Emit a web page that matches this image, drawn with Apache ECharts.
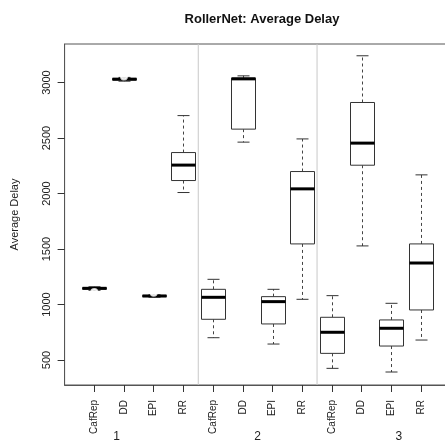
<!DOCTYPE html>
<html>
<head>
<meta charset="utf-8">
<style>
  html, body { margin: 0; padding: 0; background: #fff; }
  #main { width: 445px; height: 444px; }
</style>
<script src="https://cdn.jsdelivr.net/npm/echarts@6/dist/echarts.min.js"></script>
</head>
<body>
<div id="main"></div>
<script>
// categories (empty slots at both ends keep the R-style padding)
var categories = ['', 'CafRep', 'DD', 'EPI', 'RR', 'CafRep', 'DD', 'EPI', 'RR', 'CafRep', 'DD', 'EPI', 'RR', ''];
var groupLabels = ['1', '2', '3'];
var groupLabelPos = [1.75, 6.5, 11.25];
var groupBreaks = [4.5, 8.5];
var yTicks = [500, 1000, 1500, 2000, 2500, 3000];

// [categoryIndex, low, q1, median, q3, high]
var boxes = [
  [1, 1128, 1138, 1146, 1152, 1160],
  [2, 3012, 3022, 3030, 3037, 3046],
  [3, 1066, 1071, 1077, 1082, 1088],
  [4, 2009, 2117, 2256, 2369, 2702],
  [5, 701, 867, 1065, 1137, 1227],
  [6, 2463, 2580, 3033, 3040, 3060],
  [7, 644, 825, 1026, 1071, 1137],
  [8, 1047, 1546, 2042, 2198, 2492],
  [9, 425, 560, 750, 885, 1080],
  [10, 1528, 2255, 2454, 2820, 3241],
  [11, 392, 626, 786, 861, 1011],
  [12, 680, 951, 1374, 1546, 2168]
];
// outliers [categoryIndex, value]
var outliers = [
  [1, 1112],
  [2, 3055], [2, 3082],
  [3, 1105]
];

var font = 'Liberation Sans, Arial, sans-serif';
var ink = '#333';
var chart = echarts.init(document.getElementById('main'));

function renderBox(params, api) {
  var idx = api.value(0);
  var yLow = api.coord([idx, api.value(1)])[1];
  var yQ1 = api.coord([idx, api.value(2)])[1];
  var yMed = api.coord([idx, api.value(3)])[1];
  var yQ3 = api.coord([idx, api.value(4)])[1];
  var yHigh = api.coord([idx, api.value(5)])[1];
  var x = Math.round(api.coord([idx, api.value(3)])[0]) + 0.5;
  var hw = Math.round(api.size([1, 0])[0] * 0.41);
  var cw = Math.round(hw / 2);
  var solid = { stroke: ink, lineWidth: 1, fill: null };
  var dash = { stroke: '#444', lineWidth: 1, lineDash: [3, 3], fill: null };
  return {
    type: 'group',
    children: [
      { type: 'line', shape: { x1: x, y1: yQ3, x2: x, y2: yHigh }, style: dash },
      { type: 'line', shape: { x1: x, y1: yQ1, x2: x, y2: yLow }, style: dash },
      { type: 'line', shape: { x1: x - cw, y1: yHigh, x2: x + cw, y2: yHigh }, style: solid },
      { type: 'line', shape: { x1: x - cw, y1: yLow, x2: x + cw, y2: yLow }, style: solid },
      { type: 'rect', shape: { x: x - hw, y: yQ3, width: hw * 2, height: yQ1 - yQ3 },
        style: { stroke: ink, lineWidth: 1, fill: '#fff' } },
      { type: 'line', shape: { x1: x - hw, y1: yMed, x2: x + hw, y2: yMed },
        style: { stroke: '#000', lineWidth: 3 } }
    ]
  };
}

function renderBreak(params, api) {
  var x = api.value(0);
  var top = api.coord([x, 3347]);
  var bot = api.coord([x, 275]);
  return {
    type: 'line',
    shape: { x1: top[0], y1: top[1], x2: bot[0], y2: bot[1] },
    style: { stroke: '#c8c8c8', lineWidth: 1 }
  };
}

var option = {
  backgroundColor: '#fff',
  animation: false,
  title: {
    text: 'RollerNet: Average Delay',
    left: 257,
    textAlign: 'center',
    top: 8,
    textStyle: { fontFamily: font, fontSize: 13, fontWeight: 'bold', color: '#111' }
  },
  grid: {
    left: 64.6,
    width: 386.1,
    top: 44,
    height: 341,
    outerBoundsMode: 'none',
    containLabel: false,
    show: true,
    borderColor: '#555',
    borderWidth: 1,
    backgroundColor: 'transparent'
  },
  xAxis: [{
    type: 'category',
    data: categories,
    boundaryGap: false,
    axisLine: { show: true, lineStyle: { color: '#555' } },
    axisTick: {
      show: true, length: 7, lineStyle: { color: '#333' },
      interval: function (i, v) { return v !== ''; }
    },
    axisLabel: {
      rotate: 90, fontSize: 10, margin: 15, color: '#222', fontFamily: font,
      interval: function (i, v) { return v !== ''; }
    },
    splitLine: { show: false }
  }, {
    type: 'value',
    min: 0,
    max: 13,
    position: 'bottom',
    offset: 38,
    axisLine: { show: false },
    axisTick: { show: false },
    splitLine: { show: false },
    axisLabel: {
      customValues: groupLabelPos,
      margin: 8, fontSize: 12, color: '#222', fontFamily: font,
      formatter: function (v) {
        var k = groupLabelPos.indexOf(v);
        return k >= 0 ? groupLabels[k] : '';
      }
    }
  }],
  yAxis: {
    type: 'value',
    min: 275,
    max: 3347,
    name: 'Average Delay',
    nameLocation: 'middle',
    nameRotate: 90,
    nameGap: 44,
    nameTextStyle: { fontFamily: font, fontSize: 11, color: '#222' },
    axisLine: { show: true, lineStyle: { color: '#555' } },
    axisTick: { show: true, length: 7, customValues: yTicks, lineStyle: { color: '#333' } },
    axisLabel: {
      customValues: yTicks, rotate: 90, margin: 12, fontSize: 11,
      color: '#222', fontFamily: font,
      formatter: function (v) { return String(v); }
    },
    splitLine: { show: false }
  },
  series: [{
    type: 'custom',
    xAxisIndex: 1,
    renderItem: renderBreak,
    data: groupBreaks.map(function (b) { return [b]; }),
    encode: { x: 0 },
    silent: true,
    z: 1
  }, {
    type: 'custom',
    xAxisIndex: 0,
    renderItem: renderBox,
    data: boxes,
    encode: { x: 0, y: [1, 2, 3, 4, 5] },
    z: 2
  }, {
    type: 'scatter',
    xAxisIndex: 0,
    data: outliers,
    symbol: 'emptyCircle',
    symbolSize: 6,
    itemStyle: { color: '#fff', borderColor: '#000', borderWidth: 1.2 },
    z: 3
  }]
};
chart.setOption(option);
</script>
</body>
</html>
